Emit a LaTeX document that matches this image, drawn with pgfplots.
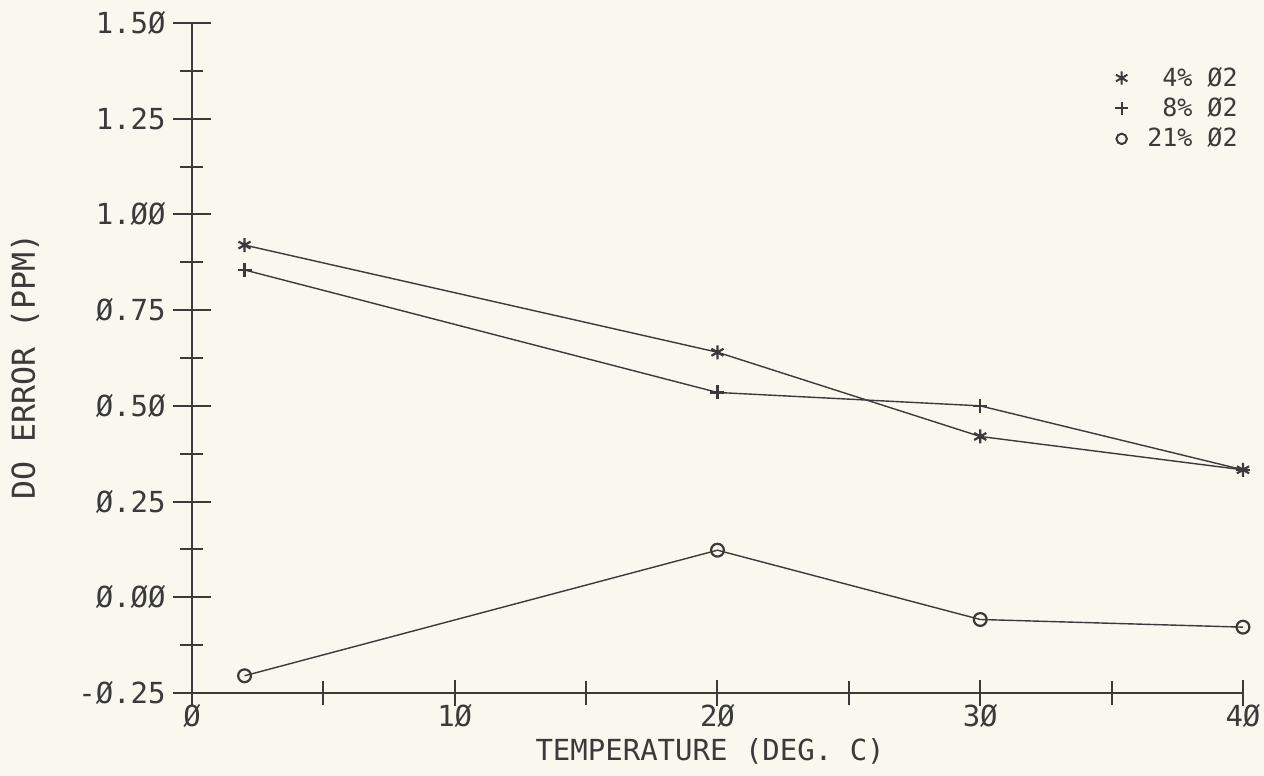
\documentclass[border=0pt]{standalone}
\usepackage{fontspec}
\setmainfont{DejaVu Sans Mono}
\usepackage{pgfplots}
\usepackage{pgfplotstable}
\pgfplotsset{compat=1.18}
\definecolor{ink}{HTML}{3A3A3A}
\definecolor{paper}{HTML}{F8F8EF}
\pgfplotstableread{
x y
2 0.92
20 0.64
30 0.42
40 0.333
}\fourpct
\pgfplotstableread{
x y
2 0.855
20 0.535
30 0.50
40 0.333
}\eightpct
\pgfplotstableread{
x y
2 -0.205
20 0.123
30 -0.058
40 -0.078
}\twentyonepct
\begin{document}
\begin{tikzpicture}
\fill[paper] (-96pt,-41.5pt) rectangle (536pt,346.5pt);
\begin{axis}[
  at={(0,0)}, anchor=south west,
  scale only axis, width=525.5pt, height=335pt,
  xmin=0, xmax=40, ymin=-0.25, ymax=1.5,
  axis x line=bottom, axis y line=left,
  axis line style={-, line width=1pt, ink},
  tick align=center,
  major tick length=19pt, minor tick length=11.5pt,
  tick style={line width=1pt, ink},
  xtick style={/pgfplots/major tick length=13pt},
  xtick={0,10,20,30,40},
  xticklabels={Ø,1Ø,2Ø,3Ø,4Ø},
  minor xtick={5,15,25,35},
  ytick={-0.25,0,0.25,0.5,0.75,1,1.25,1.5},
  yticklabels={-Ø.25,Ø.ØØ,Ø.25,Ø.5Ø,Ø.75,1.ØØ,1.25,1.5Ø},
  minor ytick={-0.125,0.125,0.375,0.625,0.875,1.125,1.375},
  ticklabel style={font=\fontsize{14.5}{16}\selectfont, text=ink},
  yticklabel style={anchor=east, inner sep=0pt},
  yticklabel shift=3.5pt,
  xticklabel style={anchor=north, inner sep=0pt},
  xticklabel shift=-4pt,
  xlabel={TEMPERATURE (DEG. C)},
  ylabel={DO ERROR (PPM)},
  every axis x label/.style={at={(axis description cs:0.493,-0.0866)}, anchor=center, font=\fontsize{14.5}{16}\selectfont, text=ink},
  every axis y label/.style={at={(axis description cs:-0.1589,0.487)}, rotate=90, anchor=center, font=\fontsize{15.8}{18}\selectfont, text=ink},
  legend style={draw=none, fill=none, at={(rel axis cs:1,1)}, anchor=north east, xshift=2.5pt, yshift=-17.8pt, font=\fontsize{12.5}{14}\selectfont, text=ink, row sep=0.2pt, column sep=7.5pt},
  legend cell align=right,
  clip=false,
]
\addlegendimage{only marks, mark=asterisk, mark size=3.3pt, ink, line width=1pt}
\addlegendentry{4\% Ø2}
\addlegendimage{only marks, mark=+, mark size=3.3pt, ink, line width=1pt}
\addlegendentry{8\% Ø2}
\addlegendimage{only marks, mark=o, mark size=2.6pt, ink, line width=1pt}
\addlegendentry{21\% Ø2}
\addplot[ink, line width=0.7pt, mark=asterisk, mark size=3.5pt, mark options={line width=1.1pt}, forget plot] table {\fourpct};
\addplot[ink, line width=0.7pt, mark=+, mark size=3.5pt, mark options={line width=1.1pt}, forget plot] table {\eightpct};
\addplot[ink, line width=0.7pt, mark=o, mark size=3.2pt, mark options={line width=1.1pt}, forget plot] table {\twentyonepct};
\end{axis}
\pgfresetboundingbox
\path (-96pt,-41.5pt) rectangle (536pt,346.5pt);
\end{tikzpicture}
\end{document}
